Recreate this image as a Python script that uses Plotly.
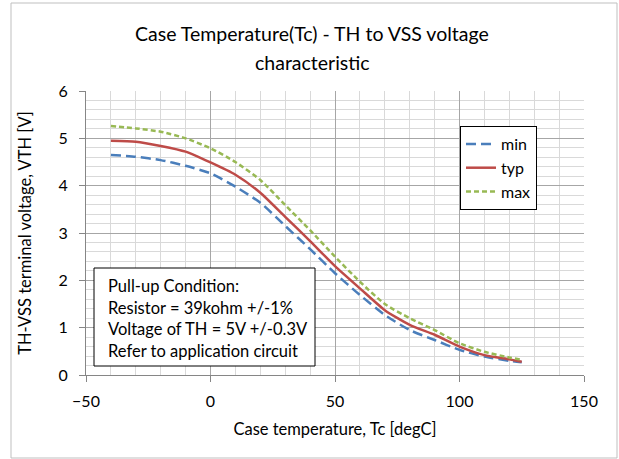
import plotly.graph_objects as go

# ---- data ----
tc = [-40, -30, -20, -10, 0, 10, 20, 30, 40, 50, 60, 70, 80, 90, 100, 110, 120, 125]
v_min = [4.65, 4.61, 4.54, 4.42, 4.26, 3.98, 3.64, 3.15, 2.66, 2.15, 1.69, 1.27, 0.95, 0.74, 0.53, 0.39, 0.30, 0.27]
v_typ = [4.95, 4.93, 4.84, 4.72, 4.49, 4.23, 3.85, 3.34, 2.83, 2.30, 1.83, 1.37, 1.06, 0.85, 0.60, 0.42, 0.33, 0.28]
v_max = [5.26, 5.21, 5.14, 5.00, 4.79, 4.50, 4.12, 3.59, 3.06, 2.50, 1.97, 1.50, 1.20, 0.95, 0.67, 0.49, 0.37, 0.32]
series_names = ["min", "typ", "max"]
x_ticks = [-50, 0, 50, 100, 150]
y_ticks = [0, 1, 2, 3, 4, 5, 6]
note_lines = ["Pull-up Condition:", "Resistor = 39kohm +/-1%",
              "Voltage of TH = 5V +/-0.3V", "Refer to application circuit"]
title_lines = ["Case Temperature(Tc) - TH to VSS voltage", "characteristic"]
x_title = "Case temperature, Tc [degC]"
y_title = "TH-VSS terminal voltage, VTH [V]"

FONT = "Lato"
W, H = 619, 459
L, R, T, B = 86, 35, 91, 84
pw, ph = W - L - R, H - T - B

def px(x):
    return (x - L) / pw

def py(y):
    return (H - B - y) / ph

fig = go.Figure()
fig.add_trace(go.Scatter(x=tc, y=v_min, name=series_names[0], mode="lines",
                         line=dict(color="#4A7EBB", width=2.5, dash="10px,5px", shape="spline", smoothing=0.6)))
fig.add_trace(go.Scatter(x=tc, y=v_typ, name=series_names[1], mode="lines",
                         line=dict(color="#BE4B48", width=2.5, shape="spline", smoothing=0.6)))
fig.add_trace(go.Scatter(x=tc, y=v_max, name=series_names[2], mode="lines",
                         line=dict(color="#98B954", width=2.5, dash="5px,3px", shape="spline", smoothing=0.6)))

shapes = [
    # outer chart frame
    dict(type="rect", xref="paper", yref="paper", x0=px(11), x1=px(617), y0=py(458), y1=py(3),
         line=dict(color="#BFBFBF", width=1), fillcolor="rgba(0,0,0,0)", layer="below"),
    # note box
    dict(type="rect", xref="paper", yref="paper", x0=px(94), x1=px(315), y0=py(366), y1=py(268),
         line=dict(color="black", width=1), fillcolor="white", layer="above"),
]

annotations = []
for i, t in enumerate(title_lines):
    annotations.append(dict(xref="paper", yref="paper", x=px(312), y=py(34 + 29 * i),
                            xanchor="center", yanchor="middle", text=t, showarrow=False,
                            font=dict(family=FONT, size=19.5, color="black")))
for i, t in enumerate(note_lines):
    annotations.append(dict(xref="paper", yref="paper", x=px(106), y=py(286 + 21.7 * i),
                            xanchor="left", yanchor="middle", text=t, showarrow=False,
                            font=dict(family=FONT, size=16.5, color="black")))

fig.update_layout(
    width=W, height=H,
    margin=dict(l=L, r=R, t=T, b=B, pad=0),
    paper_bgcolor="white", plot_bgcolor="white",
    font=dict(family=FONT, color="black", size=16),
    showlegend=True,
    legend=dict(x=px(460), y=py(126), xanchor="left", yanchor="top",
                bordercolor="black", borderwidth=1, bgcolor="white",
                font=dict(family=FONT, size=16, color="black"), tracegroupgap=0),
    shapes=shapes,
    annotations=annotations,
)

fig.update_xaxes(range=[-50, 150], tickvals=x_ticks, ticks="outside", ticklen=6, tickcolor="#868686",
                 showline=True, linecolor="#868686", linewidth=1, ticklabelstandoff=6,
                 showgrid=True, gridcolor="#A6A6A6", gridwidth=1, zeroline=False,
                 minor=dict(dtick=10, showgrid=True, gridcolor="#D9D9D9", gridwidth=1, ticks=""),
                 title=dict(text=x_title, font=dict(family=FONT, size=16.5), standoff=14),
                 tickfont=dict(family=FONT, size=16))
fig.update_yaxes(range=[0, 6], tickvals=y_ticks, ticks="outside", ticklen=6, tickcolor="#868686",
                 showline=True, linecolor="#868686", linewidth=1, ticklabelstandoff=8,
                 showgrid=True, gridcolor="#A6A6A6", gridwidth=1, zeroline=False,
                 minor=dict(dtick=0.2, showgrid=True, gridcolor="#D9D9D9", gridwidth=1, ticks=""),
                 title=dict(text=y_title, font=dict(family=FONT, size=16.5), standoff=22),
                 tickfont=dict(family=FONT, size=16))

fig.write_html("out.html", config={"displayModeBar": False},
               post_script="document.body.style.margin='0';")
